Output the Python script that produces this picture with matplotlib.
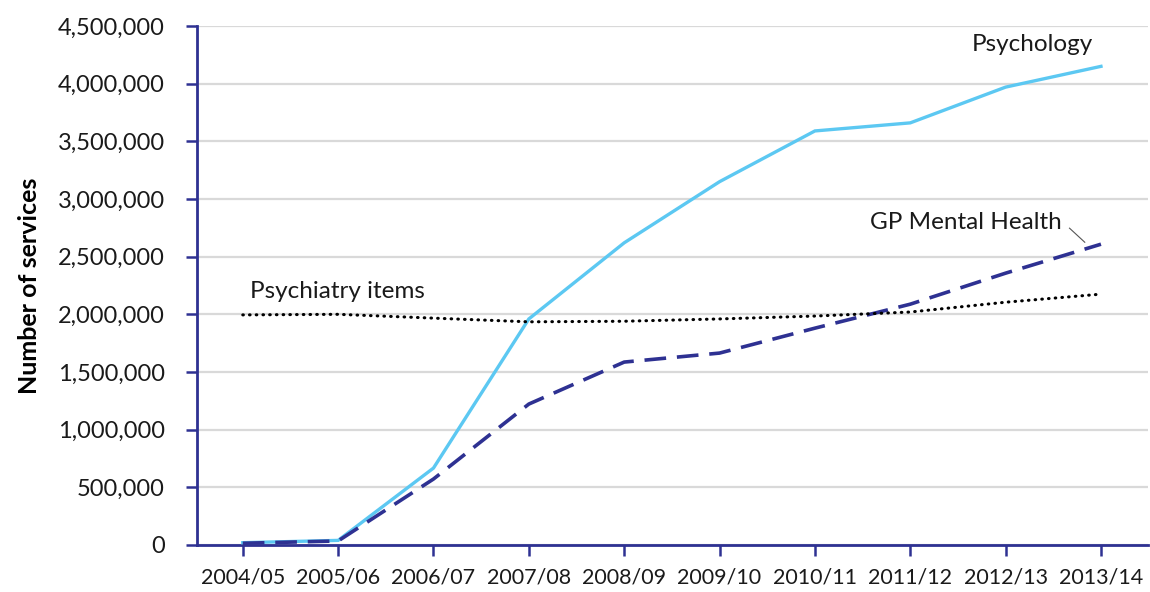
import matplotlib.pyplot as plt
from matplotlib.ticker import FuncFormatter

# financial years
years = ['2004/05', '2005/06', '2006/07', '2007/08', '2008/09',
         '2009/10', '2010/11', '2011/12', '2012/13', '2013/14']

# services per year
psychology = [20000, 40000, 667000, 1960000, 2620000, 3150000, 3590000, 3660000, 3970000, 4150000]
gp_mental_health = [15000, 35000, 572000, 1222000, 1586000, 1664000, 1880000, 2088000, 2357000, 2608000]
psychiatry_items = [1995000, 2000000, 1967000, 1935000, 1940000, 1960000, 1985000, 2020000, 2105000, 2175000]

navy = '#2E3192'
sky = '#5CC8F2'

plt.rcParams['font.family'] = ['Lato', 'DejaVu Sans']

fig = plt.figure(figsize=(11.5, 5.92), dpi=100)
ax = fig.add_axes([0.1713, 0.0794, 0.8267, 0.8767])

x = list(range(len(years)))
ax.plot(x, psychology, color=sky, lw=2.4, solid_joinstyle='miter', zorder=3)
ax.plot(x, gp_mental_health, color=navy, lw=2.6, dashes=(6, 3), zorder=3)
ax.plot(x, psychiatry_items, color='black', lw=2.2, dashes=(0.2, 2.0),
        dash_capstyle='round', zorder=3)

ax.set_xlim(-0.48, 9.49)
ax.set_ylim(0, 4500000)
ax.set_yticks(range(0, 4500001, 500000))
ax.yaxis.set_major_formatter(FuncFormatter(lambda v, p: f'{int(v):,}'))
ax.set_xticks(x)
ax.set_xticklabels(years)

ax.grid(axis='y', color='#D9D9D9', lw=1.6, zorder=0)
ax.set_axisbelow(True)
for side in ['top', 'right']:
    ax.spines[side].set_visible(False)
for side in ['left', 'bottom']:
    ax.spines[side].set_color(navy)
    ax.spines[side].set_linewidth(2)

ax.tick_params(axis='both', colors=navy, length=8, width=1.8, labelcolor='#1a1a1a')
ax.tick_params(axis='x', labelsize=15.5, pad=8)
ax.tick_params(axis='y', labelsize=17, pad=15)

ax.set_ylabel('Number of services', fontsize=18, fontweight='bold', labelpad=12)

# series labels
ax.text(7.64, 4340000, 'Psychology', fontsize=17.5, color='#1a1a1a', va='center')
ax.text(6.58, 2800000, 'GP Mental Health', fontsize=17.5, color='#1a1a1a', va='center')
ax.text(0.08, 2200000, 'Psychiatry items', fontsize=17.5, color='#1a1a1a', va='center')
ax.plot([8.67, 8.83], [2747000, 2625000], color='#555555', lw=0.8, zorder=4)

fig.savefig('out.png', dpi=100)
